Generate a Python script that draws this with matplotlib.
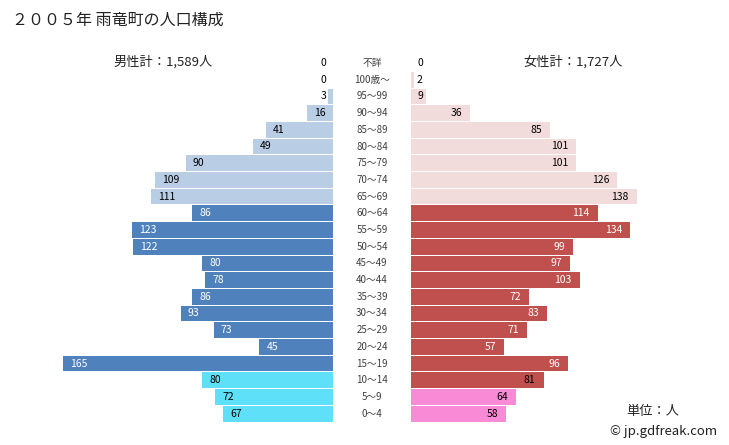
import matplotlib
matplotlib.use("Agg")
import matplotlib.pyplot as plt

plt.rcParams['font.family'] = ['Noto Sans CJK JP', 'DejaVu Sans']

ages = ['不詳', '100歳～', '95～99', '90～94', '85～89', '80～84', '75～79', '70～74', '65～69',
        '60～64', '55～59', '50～54', '45～49', '40～44', '35～39', '30～34', '25～29', '20～24',
        '15～19', '10～14', '5～9', '0～4']
male = [0, 0, 3, 16, 41, 49, 90, 109, 111, 86, 123, 122, 80, 78, 86, 93, 73, 45, 165, 80, 72, 67]
female = [0, 2, 9, 36, 85, 101, 101, 126, 138, 114, 134, 99, 97, 103, 72, 83, 71, 57, 96, 81, 64, 58]

title = '２００５年 雨竜町の人口構成'
male_total = '男性計：1,589人'
female_total = '女性計：1,727人'
unit = '単位：人'
credit = '© jp.gdfreak.com'

# colour groups (index ranges)
def male_color(i):
    if i <= 8:
        return '#b9cde5'
    if i <= 18:
        return '#4f81bd'
    return '#5ee0f8'

def female_color(i):
    if i <= 8:
        return '#f2dcdb'
    if i <= 19:
        return '#c0504d'
    return '#f98ad6'

def male_text(i):
    return 'white' if 9 <= i <= 18 else 'black'

def female_text(i):
    return 'white' if 9 <= i <= 18 else 'black'

W, H = 729, 445
fig = plt.figure(figsize=(W / 100, H / 100), dpi=100)

px_per_unit = 1.636
n = len(ages)
pitch = 16.7
top_px = 63 - pitch / 2
bottom_px = top_px + n * pitch
ax_bottom = (H - bottom_px) / H
ax_h = (n * pitch) / H

# left axis
l_left, l_right = 10, 333
axL = fig.add_axes([l_left / W, ax_bottom, (l_right - l_left) / W, ax_h])
axL.set_xlim((l_right - l_left) / px_per_unit, 0)
# right axis
r_left, r_right = 411, 720
axR = fig.add_axes([r_left / W, ax_bottom, (r_right - r_left) / W, ax_h])
axR.set_xlim(0, (r_right - r_left) / px_per_unit)

ys = list(range(n))
for ax in (axL, axR):
    ax.set_ylim(n - 0.5, -0.5)
    ax.axis('off')

bh = 0.94
axL.barh(ys, male, height=bh, color=[male_color(i) for i in ys], linewidth=0)
axR.barh(ys, female, height=bh, color=[female_color(i) for i in ys], linewidth=0)

fs = 7.5
for i, v in enumerate(male):
    if v < 10:
        axL.annotate(str(v), (0, i), xytext=(-7, 0), textcoords='offset pixels',
                     ha='right', va='center', fontsize=fs, color='black')
    else:
        axL.annotate(str(v), (v, i), xytext=(7, 0), textcoords='offset pixels',
                     ha='left', va='center', fontsize=fs, color=male_text(i))
for i, v in enumerate(female):
    if v < 10:
        axR.annotate(str(v), (0, i), xytext=(6, 0), textcoords='offset pixels',
                     ha='left', va='center', fontsize=fs, color='black')
    else:
        axR.annotate(str(v), (v, i), xytext=(-8, 0), textcoords='offset pixels',
                     ha='right', va='center', fontsize=fs, color=female_text(i))

# age labels in the centre
for i, a in enumerate(ages):
    ypx = 63 + i * pitch
    fig.text(372 / W, 1 - ypx / H, a, ha='center', va='center', fontsize=7, color='#404040')

fig.text(12 / W, 1 - 20 / H, title, ha='left', va='center', fontsize=11.5, color='#222222')
fig.text(163 / W, 1 - 62 / H, male_total, ha='center', va='center', fontsize=9.5, color='#222222')
fig.text(573 / W, 1 - 62 / H, female_total, ha='center', va='center', fontsize=9.5, color='#222222')
fig.text(653 / W, 1 - 411 / H, unit, ha='center', va='center', fontsize=9.5, color='#222222')
fig.text(664 / W, 1 - 432 / H, credit, ha='center', va='center', fontsize=9.5, color='#222222')

fig.savefig('out.png', dpi=100)
